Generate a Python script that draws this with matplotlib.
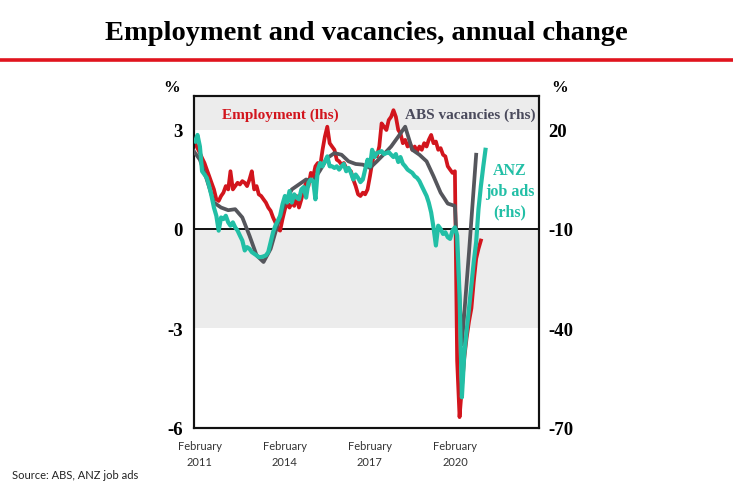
import pandas as pd
import matplotlib
matplotlib.use("Agg")
import matplotlib.pyplot as plt

# monthly series from Dec 2010
emp_start = "2010-12-01"
employment = [2.6, 2.45, 2.3, 2.15, 2.0, 1.8, 1.6, 1.4, 1.2, 0.9, 0.85, 1.0, 1.1,
              1.3, 1.2, 1.75, 1.2, 1.3, 1.4, 1.35, 1.45, 1.4, 1.3, 1.5, 1.75,
              1.2, 1.3, 1.05, 1.0, 0.9, 0.8, 0.65, 0.55, 0.35, 0.2, 0.0, -0.05,
              0.3, 0.6, 0.8, 0.65, 0.8, 0.7, 1.0, 0.65, 0.9, 1.2, 1.4, 1.3,
              1.7, 1.6, 1.9, 2.0, 1.9, 2.4, 2.8, 3.1, 2.6, 2.5, 2.4, 2.1,
              2.05, 1.95, 2.0, 1.85, 1.8, 1.75, 1.5, 1.3, 1.05, 1.0, 1.1, 1.05,
              1.2, 1.6, 2.0, 2.3, 2.2, 2.5, 3.2, 3.1, 3.0, 3.3, 3.4, 3.6,
              3.4, 3.0, 2.9, 2.6, 2.7, 2.5, 2.6, 2.4, 2.5, 2.35, 2.5, 2.4,
              2.6, 2.5, 2.7, 2.85, 2.6, 2.65, 2.4, 2.45, 2.25, 2.2, 1.9, 1.8,
              1.7, 1.75, -4.0, -5.7, -4.8, -3.9, -3.3, -2.8, -2.4, -1.6, -0.9,
              -0.6, -0.35]

job_ads = [16.5, 18.5, 15, 7.5, 6.5, 5.5, 3, 0, -3.5, -6, -10.5, -6.5, -7,
           -6, -8, -9, -8, -9.5, -10.5, -12, -13.5, -16.5, -15.5, -16, -17,
           -17.5, -18, -18.5, -18.5, -18.3, -18, -17, -14, -11, -9, -7.5, -6,
           -2.5, 0, -2, 1.5, -2, 0.5, -0.5, -1, 2, 2.7, -0.5, 4, 5, 4.5,
           -1, 8, 10, 9, 10.5, 12, 9, 9, 8.5, 9, 8, 9, 9.7, 7.5, 8.5, 7,
           5, 6.5, 5.5, 4.2, 5, 8, 11, 9, 14, 11.8, 13, 13.3, 13.6, 12.7,
           13, 13.3, 12.5, 11.8, 12.7, 10.3, 11.8, 9.8, 9, 8, 7.5, 7, 6,
           5.5, 4.5, 3, 1.5, 0, -2, -5, -9.5, -15, -9, -10, -11.5, -11,
           -12.5, -13, -10.5, -9.5, -12, -30, -61, -48, -41, -34, -27, -20,
           -14, -4, 3, 9, 14]

# quarterly from Nov 2010
vac_start = "2010-11-01"
vacancies = [14, 11, 5, -2, -3.5, -4.3, -4, -6.5, -12, -18, -20, -16, -8.5,
             -2, 2, 3.5, 5, 4.5, 7.8, 11.5, 13, 12.5, 10.5, 9.7, 9.5, 8.5,
             10.5, 12.7, 15, 18, 21, 14, 12.5, 10.5, 6, 1, -2.3, -3, -45,
             -17, 12.5]

tick_years = [2011, 2014, 2017, 2020]
left_ticks = [3, 0, -3, -6]
right_ticks = [20, -10, -40, -70]

RED = "#d2151d"
GREY = "#55565c"
TEAL = "#22bfa6"
BAND = "#ececec"
SERIF = "Liberation Serif"

emp_dates = pd.date_range(emp_start, periods=len(employment), freq="MS")
ads_dates = pd.date_range(emp_start, periods=len(job_ads), freq="MS")
vac_dates = pd.date_range(vac_start, periods=len(vacancies), freq="3MS")

fig = plt.figure(figsize=(7.33, 4.89), dpi=100)
ax = fig.add_axes([194 / 733, 1 - 429 / 489, 345 / 733, 332 / 489])
ax2 = ax.twinx()

ylo, yhi = -6.03, 4.03
ax.set_ylim(ylo, yhi)
ax2.set_ylim(10 * ylo - 10, 10 * yhi - 10)
x0 = pd.Timestamp("2010-11-17")
x1 = pd.Timestamp("2023-01-20")
ax.set_xlim(x0, x1)

ax.axhspan(3, yhi, color=BAND, lw=0, zorder=0)
ax.axhspan(-3, 0, color=BAND, lw=0, zorder=0)
ax.axhline(0, color="black", lw=1.3, zorder=1)

ax.plot(emp_dates, employment, color=RED, lw=2.7, solid_joinstyle="round", zorder=3)
ax2.plot(vac_dates, vacancies, color=GREY, lw=2.7, solid_joinstyle="round", zorder=3)
ax2.plot(ads_dates, job_ads, color=TEAL, lw=3.0, solid_joinstyle="round", zorder=4)

ax.set_xticks([pd.Timestamp(f"{y}-02-01") for y in tick_years])
ax.set_xticklabels([f"February\n{y}" for y in tick_years], family="Lato",
                   fontsize=8, color="#333333", linespacing=1.5)
ax.set_yticks(left_ticks)
ax.set_yticklabels([str(v) for v in left_ticks], family=SERIF,
                   fontweight="bold", fontsize=13.5)
ax2.set_yticks(right_ticks)
ax2.set_yticklabels([str(v) for v in right_ticks], family=SERIF,
                    fontweight="bold", fontsize=13.5)
ax.tick_params(axis="y", length=0, pad=8)
ax.tick_params(axis="x", length=0, pad=9)
ax2.tick_params(axis="y", length=0, pad=7)

for a in (ax, ax2):
    for s in a.spines.values():
        s.set_linewidth(1.5)
        s.set_color("#111111")

ax.text(0.249, 0.946, "Employment (lhs)", transform=ax.transAxes, color=RED,
        family=SERIF, fontweight="bold", fontsize=11, ha="center", va="center", zorder=5)
ax.text(0.80, 0.946, "ABS vacancies (rhs)", transform=ax.transAxes, color="#4a4a5c",
        family=SERIF, fontweight="bold", fontsize=11, ha="center", va="center", zorder=5)
ax2.text(0.916, 0.714, "ANZ\njob ads\n(rhs)", transform=ax.transAxes, color=TEAL,
         family=SERIF, fontweight="bold", fontsize=11.5, ha="center", va="center",
         linespacing=1.4, zorder=5)

fig.text(172 / 733, 1 - 88 / 489, "%", family=SERIF, fontweight="bold",
         fontsize=12, ha="center", va="center")
fig.text(560 / 733, 1 - 88 / 489, "%", family=SERIF, fontweight="bold",
         fontsize=12, ha="center", va="center")

fig.text(0.5, 1 - 33 / 489, "Employment and vacancies, annual change", family=SERIF,
         fontweight="bold", fontsize=20.5, ha="center", va="center")
fig.add_artist(plt.Line2D([0, 1], [1 - 61 / 489, 1 - 61 / 489], color="#e0141e",
                          lw=2.6, transform=fig.transFigure))
fig.text(12 / 733, 1 - 476 / 489, "Source: ABS, ANZ job ads", family="Lato",
         fontsize=8, color="#222222", ha="left", va="center")

fig.savefig("out.png", dpi=100)
